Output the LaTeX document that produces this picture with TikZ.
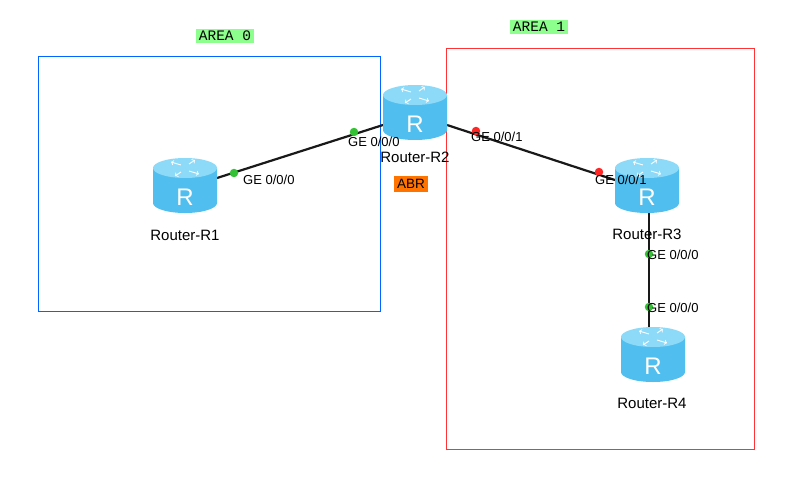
\documentclass[tikz,border=0pt]{standalone}
\usepackage{fontspec}
\setmainfont{Liberation Sans}
\newfontfamily\mono{Liberation Mono}
\definecolor{rbody}{RGB}{80,190,238}
\definecolor{rtop}{RGB}{140,218,248}
\begin{document}
\begin{tikzpicture}[x=1pt,y=-1pt,
 lbl/.style={font=\fontsize{13}{13}\selectfont,inner sep=0pt,anchor=west},
 rl/.style={font=\fontsize{15}{15}\selectfont,inner sep=0pt},
 area/.style={fill=green!45,font=\mono\fontsize{14.5}{14.5}\selectfont,inner sep=2.5pt},
 link/.style={line width=2.2pt,black!90},
 gdot/.style={circle,fill=green!70!black!80,inner sep=3pt},
 rdot/.style={circle,fill=red!85,inner sep=3pt}]
\useasboundingbox (0,0) rectangle (785,485);
\draw[blue!60!cyan,line width=0.9pt] (38,56) rectangle (380,311);
\draw[red!80,line width=0.9pt] (446,48) rectangle (754,449);
\node[area] (a0) at (225,36) {AREA 0};
\node[area] (a1) at (539,27) {AREA 1};
\node[fill=orange!90!red,font=\fontsize{13.5}{13.5}\selectfont,inner sep=3.5pt] (abr) at (411,184) {ABR};
\newcommand\myrouter[3]{%
 \begin{scope}[shift={(#1,#2)}]
 \fill[rbody] (-32,-18) -- (-32,17) arc[start angle=180,end angle=0,x radius=32,y radius=10] -- (32,-18) -- cycle;
 \fill[rtop] (0,-18) ellipse[x radius=32,y radius=10];
 \node[text=white,font=\fontsize{24}{24}\selectfont,inner sep=0pt] at (0,11) {R};
 \draw[white,line width=0.9pt,->] (-4,-21) -- (-14,-24);
 \draw[white,line width=0.9pt,->] (4,-15) -- (14,-12);
 \draw[white,line width=0.9pt,->] (4,-22) -- (10,-26);
 \draw[white,line width=0.9pt,->] (-4,-14) -- (-10,-10);
 \end{scope}
 \coordinate (#3) at (#1,#2);}
\coordinate (p1) at (217,178); \coordinate (p2) at (383,125);
\coordinate (p3) at (447,125); \coordinate (p4) at (615,180);
\coordinate (p5) at (649,213); \coordinate (p6) at (649,327);
\draw[link] (p1) -- (p2);
\draw[link] (p3) -- (p4);
\draw[link] (p5) -- (p6);
\myrouter{185}{186}{r1}
\myrouter{415}{113}{r2}
\myrouter{647}{186}{r3}
\myrouter{653}{355}{r4}
\node[rl] (l1) at (185,235) {Router-R1};
\node[rl] (l2) at (415,157) {Router-R2};
\node[rl] (l3) at (647,234) {Router-R3};
\node[rl] (l4) at (652,403) {Router-R4};
\node[gdot] at (234,173) {}; \node[gdot] at (354,132) {};
\node[rdot] at (476,131) {}; \node[rdot] at (599,172) {};
\node[gdot] at (649,254) {}; \node[gdot] at (649,307) {};
\node[lbl] at (243,180) {GE 0/0/0};
\node[lbl] at (348,142) {GE 0/0/0};
\node[lbl] at (471,137) {GE 0/0/1};
\node[lbl] at (595,180) {GE 0/0/1};
\node[lbl] at (647,255) {GE 0/0/0};
\node[lbl] at (647,308) {GE 0/0/0};
\end{tikzpicture}
\end{document}
